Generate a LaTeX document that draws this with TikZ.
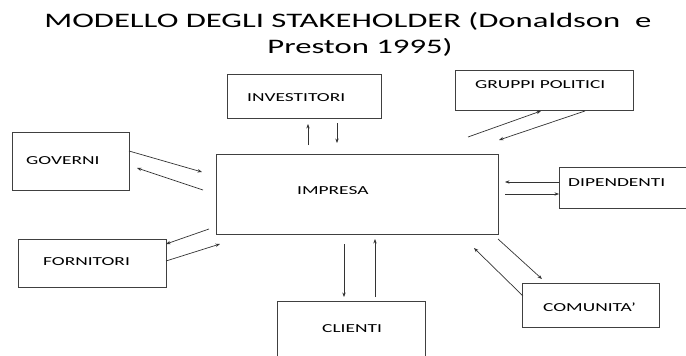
\documentclass[tikz,border=0pt]{standalone}
\usepackage{fontspec}
\setmainfont{Carlito}
\usepackage{graphicx}
\usetikzlibrary{arrows.meta}
\newcommand{\squash}[1]{\scalebox{1}[0.63]{#1}}
\begin{document}
\begin{tikzpicture}[x=1pt,y=-1pt,
  box/.style={draw=black!75, line width=0.8pt, anchor=north west, inner sep=0pt},
  lbl/.style={anchor=west, inner sep=0pt, font=\fontsize{19.4}{21}\selectfont, text=black},
  ttl/.style={inner sep=0pt, font=\fontsize{32.7}{36}\selectfont, text=black},
  conn/.style={draw=black!80, line width=0.7pt, -{Stealth[length=4.5pt,width=3.4pt]}}]
\useasboundingbox (0,0) rectangle (686,356);
\clip (0,0) rectangle (686,356);
\fill[white] (0,0) rectangle (686,356);

% title
\node[ttl] (t1) at (348,21) {\squash{MODELLO DEGLI STAKEHOLDER (Donaldson\ \ e}};
\node[ttl] (t2) at (360,47) {\squash{Preston 1995)}};

% boxes
\node[box, minimum width=154pt, minimum height=44pt] (inv) at (227,74) {};
\node[box, minimum width=178pt, minimum height=40pt] (gru) at (455,70) {};
\node[box, minimum width=117pt, minimum height=58pt] (gov) at (12,132) {};
\node[box, minimum width=282pt, minimum height=80pt] (imp) at (216,154) {};
\node[box, minimum width=135pt, minimum height=41pt] (dip) at (559,167) {};
\node[box, minimum width=148pt, minimum height=48pt] (for) at (18,239) {};
\node[box, minimum width=148pt, minimum height=70pt] (cli) at (277,301) {};
\node[box, minimum width=137pt, minimum height=44pt] (com) at (522,283) {};

% labels
\node[lbl] (linv) at (247,98) {\squash{INVESTITORI}};
\node[lbl] (lgru) at (475,85) {\squash{GRUPPI POLITICI}};
\node[lbl] (lgov) at (26,161) {\squash{GOVERNI}};
\node[lbl] (limp) at (297,191) {\squash{IMPRESA}};
\node[lbl] (ldip) at (568,183) {\squash{DIPENDENTI}};
\node[lbl] (lfor) at (43,262) {\squash{FORNITORI}};
\node[lbl] (lcli) at (322,329) {\squash{CLIENTI}};
\node[lbl] (lcom) at (543,307) {\squash{COMUNITA’}};

% connector end points
\coordinate (i1a) at (308,145); \coordinate (i1b) at (308,124);
\coordinate (i2a) at (337,123); \coordinate (i2b) at (337,143);
\coordinate (g1a) at (468,137); \coordinate (g1b) at (541,111);
\coordinate (g2a) at (585,111); \coordinate (g2b) at (499,140);
\coordinate (v1a) at (129,151); \coordinate (v1b) at (202,172);
\coordinate (v2a) at (203,190); \coordinate (v2b) at (137,168);
\coordinate (d1a) at (559,182); \coordinate (d1b) at (505,182);
\coordinate (d2a) at (505,194); \coordinate (d2b) at (559,194);
\coordinate (f1a) at (209,229); \coordinate (f1b) at (166,244);
\coordinate (f2a) at (166,261); \coordinate (f2b) at (220,244);
\coordinate (c1a) at (344,244); \coordinate (c1b) at (344,297);
\coordinate (c2a) at (375,297); \coordinate (c2b) at (375,239);
\coordinate (m1a) at (498,239); \coordinate (m1b) at (542,279);
\coordinate (m2a) at (523,296); \coordinate (m2b) at (474,248);

\draw[conn] (i1a) -- (i1b);
\draw[conn] (i2a) -- (i2b);
\draw[conn] (g1a) -- (g1b);
\draw[conn] (g2a) -- (g2b);
\draw[conn] (v1a) -- (v1b);
\draw[conn] (v2a) -- (v2b);
\draw[conn] (d1a) -- (d1b);
\draw[conn] (d2a) -- (d2b);
\draw[conn] (f1a) -- (f1b);
\draw[conn] (f2a) -- (f2b);
\draw[conn] (c1a) -- (c1b);
\draw[conn] (c2a) -- (c2b);
\draw[conn] (m1a) -- (m1b);
\draw[conn] (m2a) -- (m2b);
\end{tikzpicture}
\end{document}
